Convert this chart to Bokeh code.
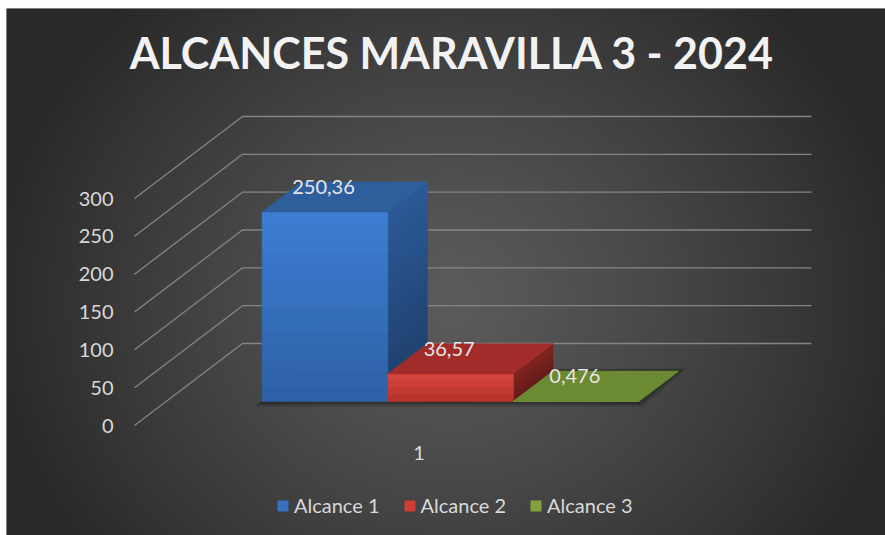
import numpy as np
from bokeh.plotting import figure
from bokeh.models import Range1d, Label, Legend, LegendItem, ColumnDataSource
from bokeh.core.properties import value
from bokeh.embed import file_html
from bokeh.resources import INLINE

# ---------------- data ----------------
title_text = "ALCANCES MARAVILLA 3 - 2024"
categories = ["1"]
series_names = ["Alcance 1", "Alcance 2", "Alcance 3"]
series_values = [250.36, 36.57, 0.476]
value_labels = ["250,36", "36,57", "0,476"]
y_ticks = [0, 50, 100, 150, 200, 250, 300]
y_tick_labels = ["0", "50", "100", "150", "200", "250", "300"]

# ---------------- styles ----------------
FONT = "Lato"
TEXT_COLOR = "#d9d9d9"
GRID_COLOR = "#858585"
front_top = ["#3d7ed3", "#d9463e", "#8aac42"]
front_bot = ["#2d60a6", "#b5302a", "#7a9a3a"]
side_top = ["#2b5a97", "#80241f", "#56702a"]
side_bot = ["#1e3e6a", "#651b18", "#4a6124"]
top_col = ["#2e5f9d", "#a22c2a", "#6b8a31"]

LEFT, TOP = 6, 8                 # page offset of the chart
W, H = 885 - LEFT, 535 - TOP
# oblique projection (category units on x, value units on y)
PXU = 227.0 / 300.0          # px per value unit
CAT_PX = 569.0               # px per category
DX = 108.0 / CAT_PX          # full depth shift on x (category units)
DY = 82.0 / PXU              # full depth shift on y (value units)
T0, T1 = 0.293, 0.659        # bar depth (front/back)
GROUP_W = 0.6626             # bars' share of the category width

x0 = 1 + (LEFT - 418.5) / CAT_PX
x1 = 1 + (885 - 418.5) / CAT_PX
y0 = (425 - 535) / PXU
y1 = (425 - TOP) / PXU


def P(x, v, t):
    return x + t * DX, v + t * DY


def mix(c1, c2, f):
    a = [int(c1[i:i + 2], 16) for i in (1, 3, 5)]
    b = [int(c2[i:i + 2], 16) for i in (1, 3, 5)]
    return "#%02x%02x%02x" % tuple(int(round(a[i] + (b[i] - a[i]) * f)) for i in range(3))


p = figure(width=W, height=H, x_range=Range1d(x0, x1), y_range=Range1d(y0, y1),
           output_backend="svg", toolbar_location=None, min_border=0,
           x_axis_type=None, y_axis_type=None, outline_line_color=None,
           background_fill_color="#3a3a3a", border_fill_color="#2c2c2c")
p.margin = (TOP, 0, 0, LEFT)
p.grid.visible = False

# background radial gradient
nx, ny = 440, 264
xs_pg = LEFT + (np.arange(nx) + 0.5) * W / nx
ys_pg = 535 - (np.arange(ny) + 0.5) * H / ny
X, Y = np.meshgrid(xs_pg, ys_pg)
r = np.sqrt(((X - 450) / 470) ** 2 + ((Y - 300) / 420) ** 2)
c = np.clip(0x5b - (0x5b - 0x28) * np.clip(r, 0, 1) ** 1.2, 0, 255).astype(np.uint32)
img = (np.uint32(255) << 24) | (c << 16) | (c << 8) | c
p.image_rgba(image=[img], x=x0, y=y0, dw=x1 - x0, dh=y1 - y0)

# gridlines: side wall diagonals + back wall horizontals
gx, gy = [], []
for v in y_ticks:
    a = P(0.5, v, 0)
    b = P(0.5, v, 1)
    e = P(1.5, v, 1)
    gx.append([a[0], b[0], e[0]])
    gy.append([a[1], b[1], e[1]])
p.multi_line(gx, gy, line_color=GRID_COLOR, line_width=1.3)

# tick labels
p.text(x=[0.5] * len(y_ticks), y=y_ticks, text=y_tick_labels, x_offset=-21, y_offset=0,
       text_align="right", text_baseline="alphabetic", text_font=value(FONT),
       text_font_size="20px", text_color=TEXT_COLOR)

# category label
p.text(x=[1.0], y=[0.0], text=categories, y_offset=27, text_align="center",
       text_baseline="alphabetic", text_font=value(FONT), text_font_size="20px",
       text_color=TEXT_COLOR)

# shadow under the bar group
bw = GROUP_W / len(series_values)
gl = 1 - GROUP_W / 2
gr = 1 + GROUP_W / 2
for k, (off, al) in enumerate([(8, 0.10), (5, 0.15), (2, 0.2)]):
    ox = off / CAT_PX
    oy = off / PXU
    pts = [P(gl - ox, -oy * 0.6, T0 - 0.01), P(gr + ox * 0.5, -oy * 0.6, T0 - 0.01),
           P(gr + ox, oy * 0.3, T1 + 0.01), P(gl, oy * 0.3, T1 + 0.01)]
    p.patch([q[0] for q in pts], [q[1] for q in pts], fill_color="black", fill_alpha=al,
            line_color=None)

legend_items = []
for i, (name, v) in enumerate(zip(series_names, series_values)):
    xl = gl + i * bw
    xr = xl + bw
    n = 14 if v > 50 else (4 if v > 5 else 1)
    fx, fy, fc = [], [], []
    for k in range(n):
        v0 = v * k / n
        v1 = v * (k + 1) / n
        pts = [P(xl, v0, T0), P(xr, v0, T0), P(xr, v1, T0), P(xl, v1, T0)]
        fx.append([q[0] for q in pts])
        fy.append([q[1] for q in pts])
        fc.append(mix(front_bot[i], front_top[i], (k + 0.5) / n))
    sx, sy, sc = [], [], []
    for k in range(n):
        v0 = v * k / n
        v1 = v * (k + 1) / n
        pts = [P(xr, v0, T0), P(xr, v0, T1), P(xr, v1, T1), P(xr, v1, T0)]
        sx.append([q[0] for q in pts])
        sy.append([q[1] for q in pts])
        sc.append(mix(side_bot[i], side_top[i], (k + 0.5) / n))
    p.patches(sx, sy, fill_color=sc, line_color=sc, line_width=0.6)
    rf = p.patches(xs="xs", ys="ys", source=ColumnDataSource(dict(xs=fx, ys=fy, c=fc)),
                   fill_color="c", line_color="c", line_width=0.6)
    tp = [P(xl, v, T0), P(xr, v, T0), P(xr, v, T1), P(xl, v, T1)]
    p.patch([q[0] for q in tp], [q[1] for q in tp], fill_color=top_col[i],
            line_color=top_col[i], line_width=0.6)
    legend_items.append(LegendItem(label=name, renderers=[rf], index=n // 2))

# data labels
lx = [gl + (i + 0.5) * bw + T0 * DX for i in range(len(series_values))]
ly = [v + T0 * DY for v in series_values]
p.text(x=lx, y=ly, text=value_labels, x_offset=-1.5, y_offset=-25, text_align="center",
       text_baseline="alphabetic", text_font=value(FONT), text_font_size="20px",
       text_color="#e6e6e6")

# title
p.add_layout(Label(x=451.5 - LEFT, y=483, x_units="screen", y_units="screen", text=title_text,
                   text_align="center", text_baseline="alphabetic", text_font=FONT,
                   text_font_style="bold", text_font_size="43px", text_color="#f2f2f2"))

legend = Legend(items=legend_items, orientation="horizontal", location=(270, 18),
                glyph_width=13, glyph_height=13, label_standoff=5, spacing=23,
                padding=0, margin=0, label_text_font=FONT, label_text_font_size="20px",
                label_text_color=TEXT_COLOR, background_fill_alpha=0, border_line_alpha=0)
p.add_layout(legend)

open("out.html", "w").write(file_html(p, INLINE))
